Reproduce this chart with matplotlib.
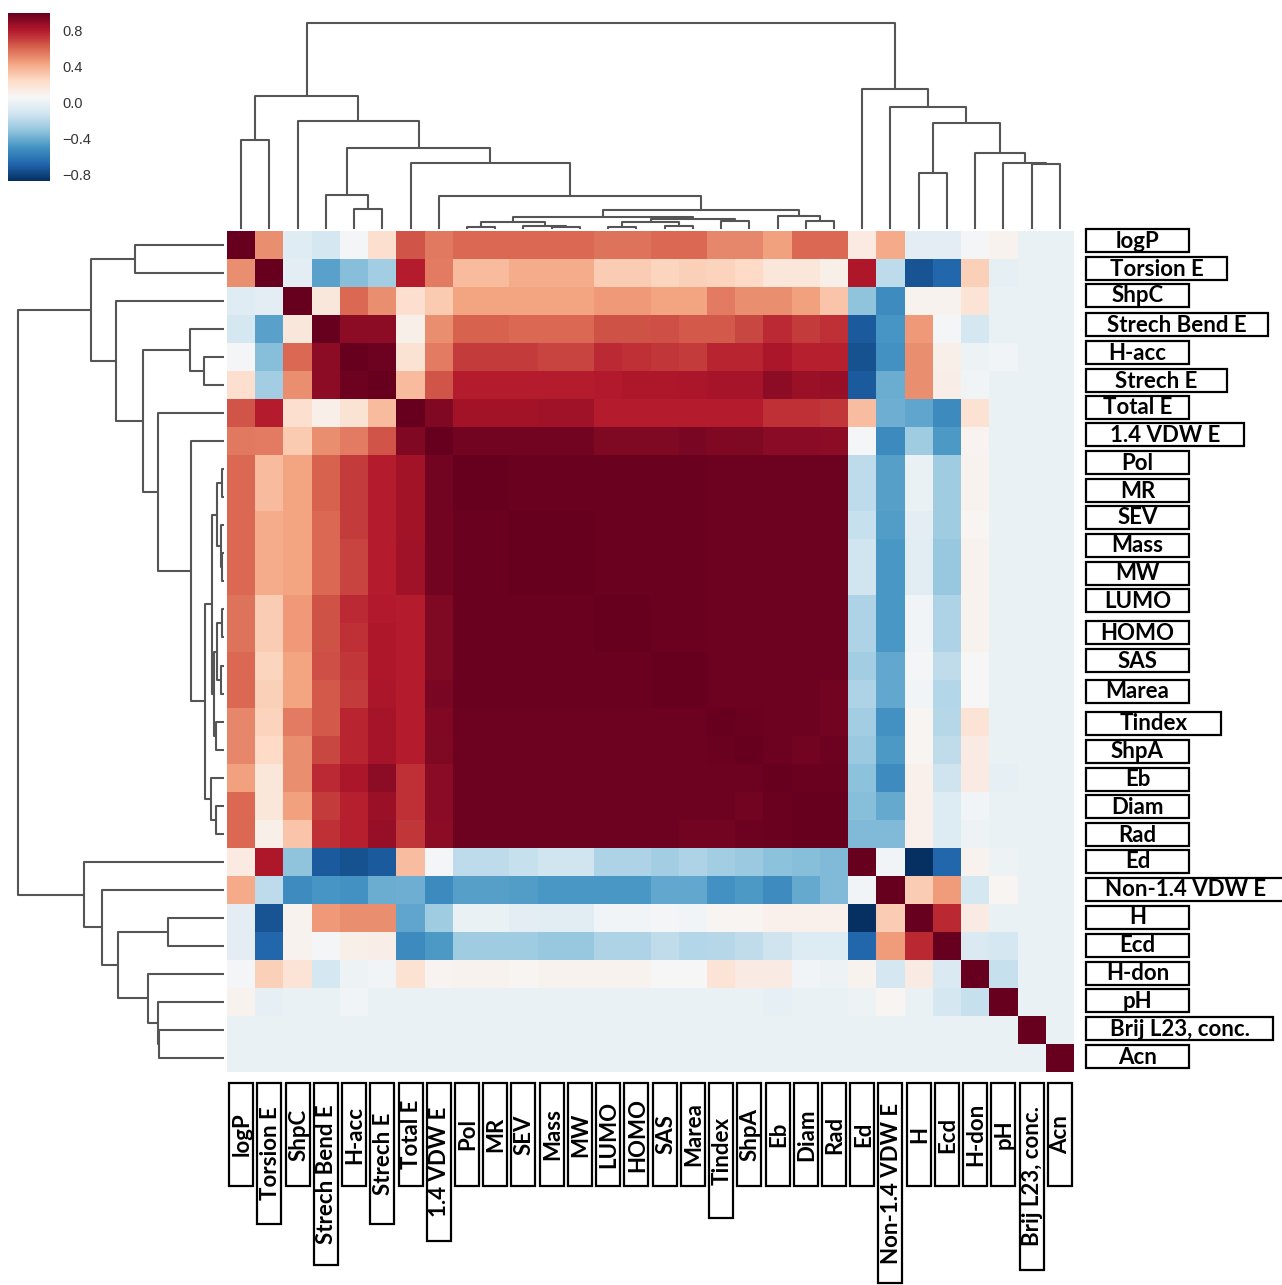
import numpy as np
import matplotlib
matplotlib.use('Agg')
import matplotlib.pyplot as plt
from matplotlib.patches import Rectangle

####################################
# Data
####################################

labels = ['logP', 'Torsion E', 'ShpC', 'Strech Bend E', 'H-acc', 'Strech E',
          'Total E', '1.4 VDW E', 'Pol', 'MR', 'SEV', 'Mass', 'MW', 'LUMO',
          'HOMO', 'SAS', 'Marea', 'Tindex', 'ShpA', 'Eb', 'Diam', 'Rad', 'Ed',
          'Non-1.4 VDW E', 'H', 'Ecd', 'H-don', 'pH', 'Brij L23, conc.', 'Acn']

# correlation matrix, upper triangle: row i holds columns i..29
corr_upper = [
    [1.00, 0.50, -0.05, -0.10, 0.05, 0.22, 0.65, 0.56, 0.60, 0.60, 0.60, 0.60, 0.60, 0.57, 0.57,
     0.60, 0.60, 0.52, 0.52, 0.45, 0.60, 0.60, 0.15, 0.42, -0.03, -0.03, 0.05, 0.10, 0.00, 0.00],
    [1.00, -0.03, -0.44, -0.33, -0.26, 0.80, 0.55, 0.36, 0.36, 0.41, 0.41, 0.41, 0.30, 0.30,
     0.27, 0.29, 0.28, 0.25, 0.18, 0.18, 0.12, 0.82, -0.18, -0.74, -0.68, 0.29, -0.02, 0.00, 0.00],
    [1.00, 0.17, 0.60, 0.50, 0.22, 0.31, 0.44, 0.44, 0.44, 0.44, 0.44, 0.47, 0.47,
     0.44, 0.44, 0.55, 0.50, 0.50, 0.45, 0.33, -0.31, -0.52, 0.10, 0.10, 0.19, 0.00, 0.00, 0.00],
    [1.00, 0.90, 0.90, 0.12, 0.50, 0.62, 0.62, 0.60, 0.60, 0.60, 0.66, 0.66,
     0.67, 0.64, 0.64, 0.69, 0.76, 0.72, 0.75, -0.72, -0.49, 0.47, 0.05, -0.10, 0.00, 0.00, 0.00],
    [1.00, 0.98, 0.20, 0.55, 0.72, 0.72, 0.72, 0.70, 0.70, 0.76, 0.75,
     0.73, 0.72, 0.78, 0.78, 0.83, 0.79, 0.79, -0.75, -0.50, 0.50, 0.12, 0.02, 0.03, 0.00, 0.00],
    [1.00, 0.36, 0.65, 0.80, 0.80, 0.80, 0.80, 0.80, 0.81, 0.82,
     0.82, 0.83, 0.84, 0.84, 0.90, 0.87, 0.88, -0.72, -0.40, 0.50, 0.13, 0.03, 0.00, 0.00, 0.00],
    [1.00, 0.93, 0.85, 0.85, 0.85, 0.86, 0.86, 0.80, 0.80,
     0.80, 0.80, 0.80, 0.80, 0.75, 0.75, 0.73, 0.35, -0.39, -0.43, -0.53, 0.21, 0.00, 0.00, 0.00],
    [1.00, 0.97, 0.97, 0.97, 0.97, 0.97, 0.94, 0.94,
     0.94, 0.95, 0.93, 0.94, 0.91, 0.91, 0.90, 0.05, -0.53, -0.27, -0.47, 0.09, 0.00, 0.00, 0.00],
    [1.00, 1.00, 0.99, 0.99, 0.99, 0.99, 0.99,
     0.99, 0.99, 0.98, 0.98, 0.98, 0.98, 0.98, -0.18, -0.45, 0.00, -0.27, 0.10, 0.00, 0.00, 0.00],
    [1.00, 0.99, 0.99, 0.99, 0.99, 0.99,
     0.99, 0.99, 0.98, 0.98, 0.98, 0.98, 0.98, -0.18, -0.45, 0.00, -0.27, 0.10, 0.00, 0.00, 0.00],
    [1.00, 1.00, 1.00, 0.99, 0.99,
     0.99, 0.99, 0.98, 0.98, 0.98, 0.98, 0.98, -0.15, -0.46, -0.03, -0.27, 0.08, 0.00, 0.00, 0.00],
    [1.00, 1.00, 0.99, 0.99,
     0.99, 0.99, 0.98, 0.98, 0.98, 0.98, 0.98, -0.12, -0.48, -0.04, -0.29, 0.10, 0.00, 0.00, 0.00],
    [1.00, 0.99, 0.99,
     0.99, 0.99, 0.98, 0.98, 0.98, 0.98, 0.98, -0.12, -0.48, -0.04, -0.29, 0.10, 0.00, 0.00, 0.00],
    [1.00, 1.00,
     0.99, 0.99, 0.98, 0.98, 0.98, 0.98, 0.98, -0.22, -0.48, 0.03, -0.22, 0.10, 0.00, 0.00, 0.00],
    [1.00,
     0.99, 0.99, 0.98, 0.98, 0.98, 0.98, 0.98, -0.22, -0.48, 0.03, -0.22, 0.10, 0.00, 0.00, 0.00],
    [1.00, 1.00, 0.98, 0.98, 0.98, 0.98, 0.98, -0.26, -0.42, 0.05, -0.17, 0.07, 0.00, 0.00, 0.00],
    [1.00, 0.98, 0.98, 0.98, 0.98, 0.97, -0.22, -0.42, 0.03, -0.21, 0.07, 0.00, 0.00, 0.00],
    [1.00, 0.99, 0.98, 0.98, 0.97, -0.26, -0.50, 0.08, -0.20, 0.19, 0.00, 0.00, 0.00],
    [1.00, 0.98, 0.97, 0.98, -0.28, -0.47, 0.08, -0.17, 0.14, 0.00, 0.00, 0.00],
    [1.00, 0.99, 0.99, -0.32, -0.52, 0.11, -0.13, 0.14, -0.02, 0.00, 0.00],
    [1.00, 1.00, -0.33, -0.41, 0.11, -0.06, 0.03, 0.00, 0.00, 0.00],
    [1.00, -0.35, -0.35, 0.11, -0.06, 0.02, 0.00, 0.00, 0.00],
    [1.00, 0.03, -0.87, -0.68, 0.10, 0.02, 0.00, 0.00],
    [1.00, 0.30, 0.46, -0.10, 0.08, 0.00, 0.00],
    [1.00, 0.77, 0.14, 0.00, 0.00, 0.00],
    [1.00, -0.07, -0.10, 0.00, 0.00],
    [1.00, -0.15, 0.00, 0.00],
    [1.00, 0.00, 0.00],
    [1.00, 0.00],
    [1.00],
]

# linkage: (left, right, height); ids >= 30 refer to earlier merges
merges = [
    (4, 5, 20), (3, 30, 34), (0, 1, 89), (11, 12, 2), (10, 33, 3),
    (8, 9, 2), (35, 34, 7), (13, 14, 2), (15, 16, 3), (37, 38, 7),
    (17, 18, 8), (39, 40, 10), (36, 41, 12), (20, 21, 8), (19, 43, 13),
    (42, 44, 19), (7, 45, 33), (6, 46, 66), (31, 47, 81), (2, 48, 108),
    (32, 49, 133), (28, 29, 65), (27, 51, 66), (26, 52, 76), (24, 25, 56),
    (54, 53, 106), (23, 55, 122), (22, 56, 140), (50, 57, 206),
]

cbar_ticks = [0.8, 0.4, 0.0, -0.4, -0.8]
VMIN, VMAX = -0.87, 1.0

####################################
# Layout (pixels)
####################################

W, H = 1282, 1285
HM = (227, 231, 1074, 1072)          # heatmap x0, y0, x1, y1
DEND_H = 214                          # dendrogram depth in pixels
LINE_C = '#555555'

# label box lengths; everything else uses the default
box_len = {'Torsion E': 141, 'Strech Bend E': 182, 'Strech E': 141,
           '1.4 VDW E': 158, 'Tindex': 135, 'Non-1.4 VDW E': 200,
           'Brij L23, conc.': 187}
DEFAULT_BOX = 103
right_box_y = [240, 268, 295, 324, 352, 380, 407, 434, 462, 490, 517, 545, 573, 600,
               632, 660, 691, 723, 751, 779, 806, 834, 861, 889, 917, 945, 973, 1000,
               1028, 1056]

LABEL_FONT = dict(family='Lato', weight='bold', size=16, color='black')


def px_axes(fig, x0, y0, x1, y1):
    return fig.add_axes([x0 / W, 1 - y1 / H, (x1 - x0) / W, (y1 - y0) / H])


def dendro_segments(merges, n):
    pos = {i: (i + 0.5, 0.0) for i in range(n)}
    segs = []
    for k, (a, b, h) in enumerate(merges):
        xa, ha = pos[a]
        xb, hb = pos[b]
        segs.append(([xa, xa, xb, xb], [ha, h, h, hb]))
        pos[n + k] = ((xa + xb) / 2, h)
    return segs


n = len(labels)
corr = np.zeros((n, n))
for i, row in enumerate(corr_upper):
    corr[i, i:] = row
    corr[i:, i] = row

fig = plt.figure(figsize=(W / 100, H / 100), dpi=100)

# heatmap
ax_hm = px_axes(fig, *HM)
mesh = ax_hm.pcolormesh(corr, cmap='RdBu_r', vmin=VMIN, vmax=VMAX)
ax_hm.set_xlim(0, n)
ax_hm.set_ylim(n, 0)
ax_hm.axis('off')

segs = dendro_segments(merges, n)

# column dendrogram
ax_top = px_axes(fig, HM[0], 229 - DEND_H, HM[2], 229)
for xs, hs in segs:
    ax_top.plot(xs, hs, color=LINE_C, lw=1.5, solid_capstyle='butt')
ax_top.set_xlim(0, n)
ax_top.set_ylim(0, DEND_H)
ax_top.axis('off')

# row dendrogram
ax_left = px_axes(fig, 224 - DEND_H, HM[1], 224, HM[3])
for xs, hs in segs:
    ax_left.plot(hs, xs, color=LINE_C, lw=1.5, solid_capstyle='butt')
ax_left.set_xlim(DEND_H, 0)
ax_left.set_ylim(n, 0)
ax_left.axis('off')

# colorbar
ax_cb = px_axes(fig, 8, 13, 50, 181)
cb = fig.colorbar(mesh, cax=ax_cb)
cb.set_ticks(cbar_ticks)
cb.set_ticklabels([f'{t:.1f}'.replace('-', '\u2212') for t in cbar_ticks])
cb.outline.set_linewidth(0)
ax_cb.tick_params(length=0, pad=9, labelsize=10.5, labelcolor='#333333')
for t in ax_cb.get_yticklabels():
    t.set_family('Liberation Sans')

# boxed labels on an overlay in pixel coordinates
ax_lab = fig.add_axes([0, 0, 1, 1])
ax_lab.set_xlim(0, W)
ax_lab.set_ylim(H, 0)
ax_lab.axis('off')

cell_w = (HM[2] - HM[0]) / n
for i, lab in enumerate(labels):
    L = box_len.get(lab, DEFAULT_BOX)
    # right side
    yc = right_box_y[i]
    ax_lab.add_patch(Rectangle((1086, yc - 11.5), L, 23, facecolor='white',
                               edgecolor='black', lw=1.6, clip_on=False))
    ax_lab.text(1086 + L / 2, yc + 1, lab, ha='center', va='center', **LABEL_FONT)
    # bottom
    xc = HM[0] + (i + 0.5) * cell_w
    ax_lab.add_patch(Rectangle((xc - 12, 1083), 24, L, facecolor='white',
                               edgecolor='black', lw=1.6, clip_on=False))
    ax_lab.text(xc + 1, 1083 + L / 2, lab, ha='center', va='center',
                rotation=90, **LABEL_FONT)

fig.savefig('out.png', dpi=100)
